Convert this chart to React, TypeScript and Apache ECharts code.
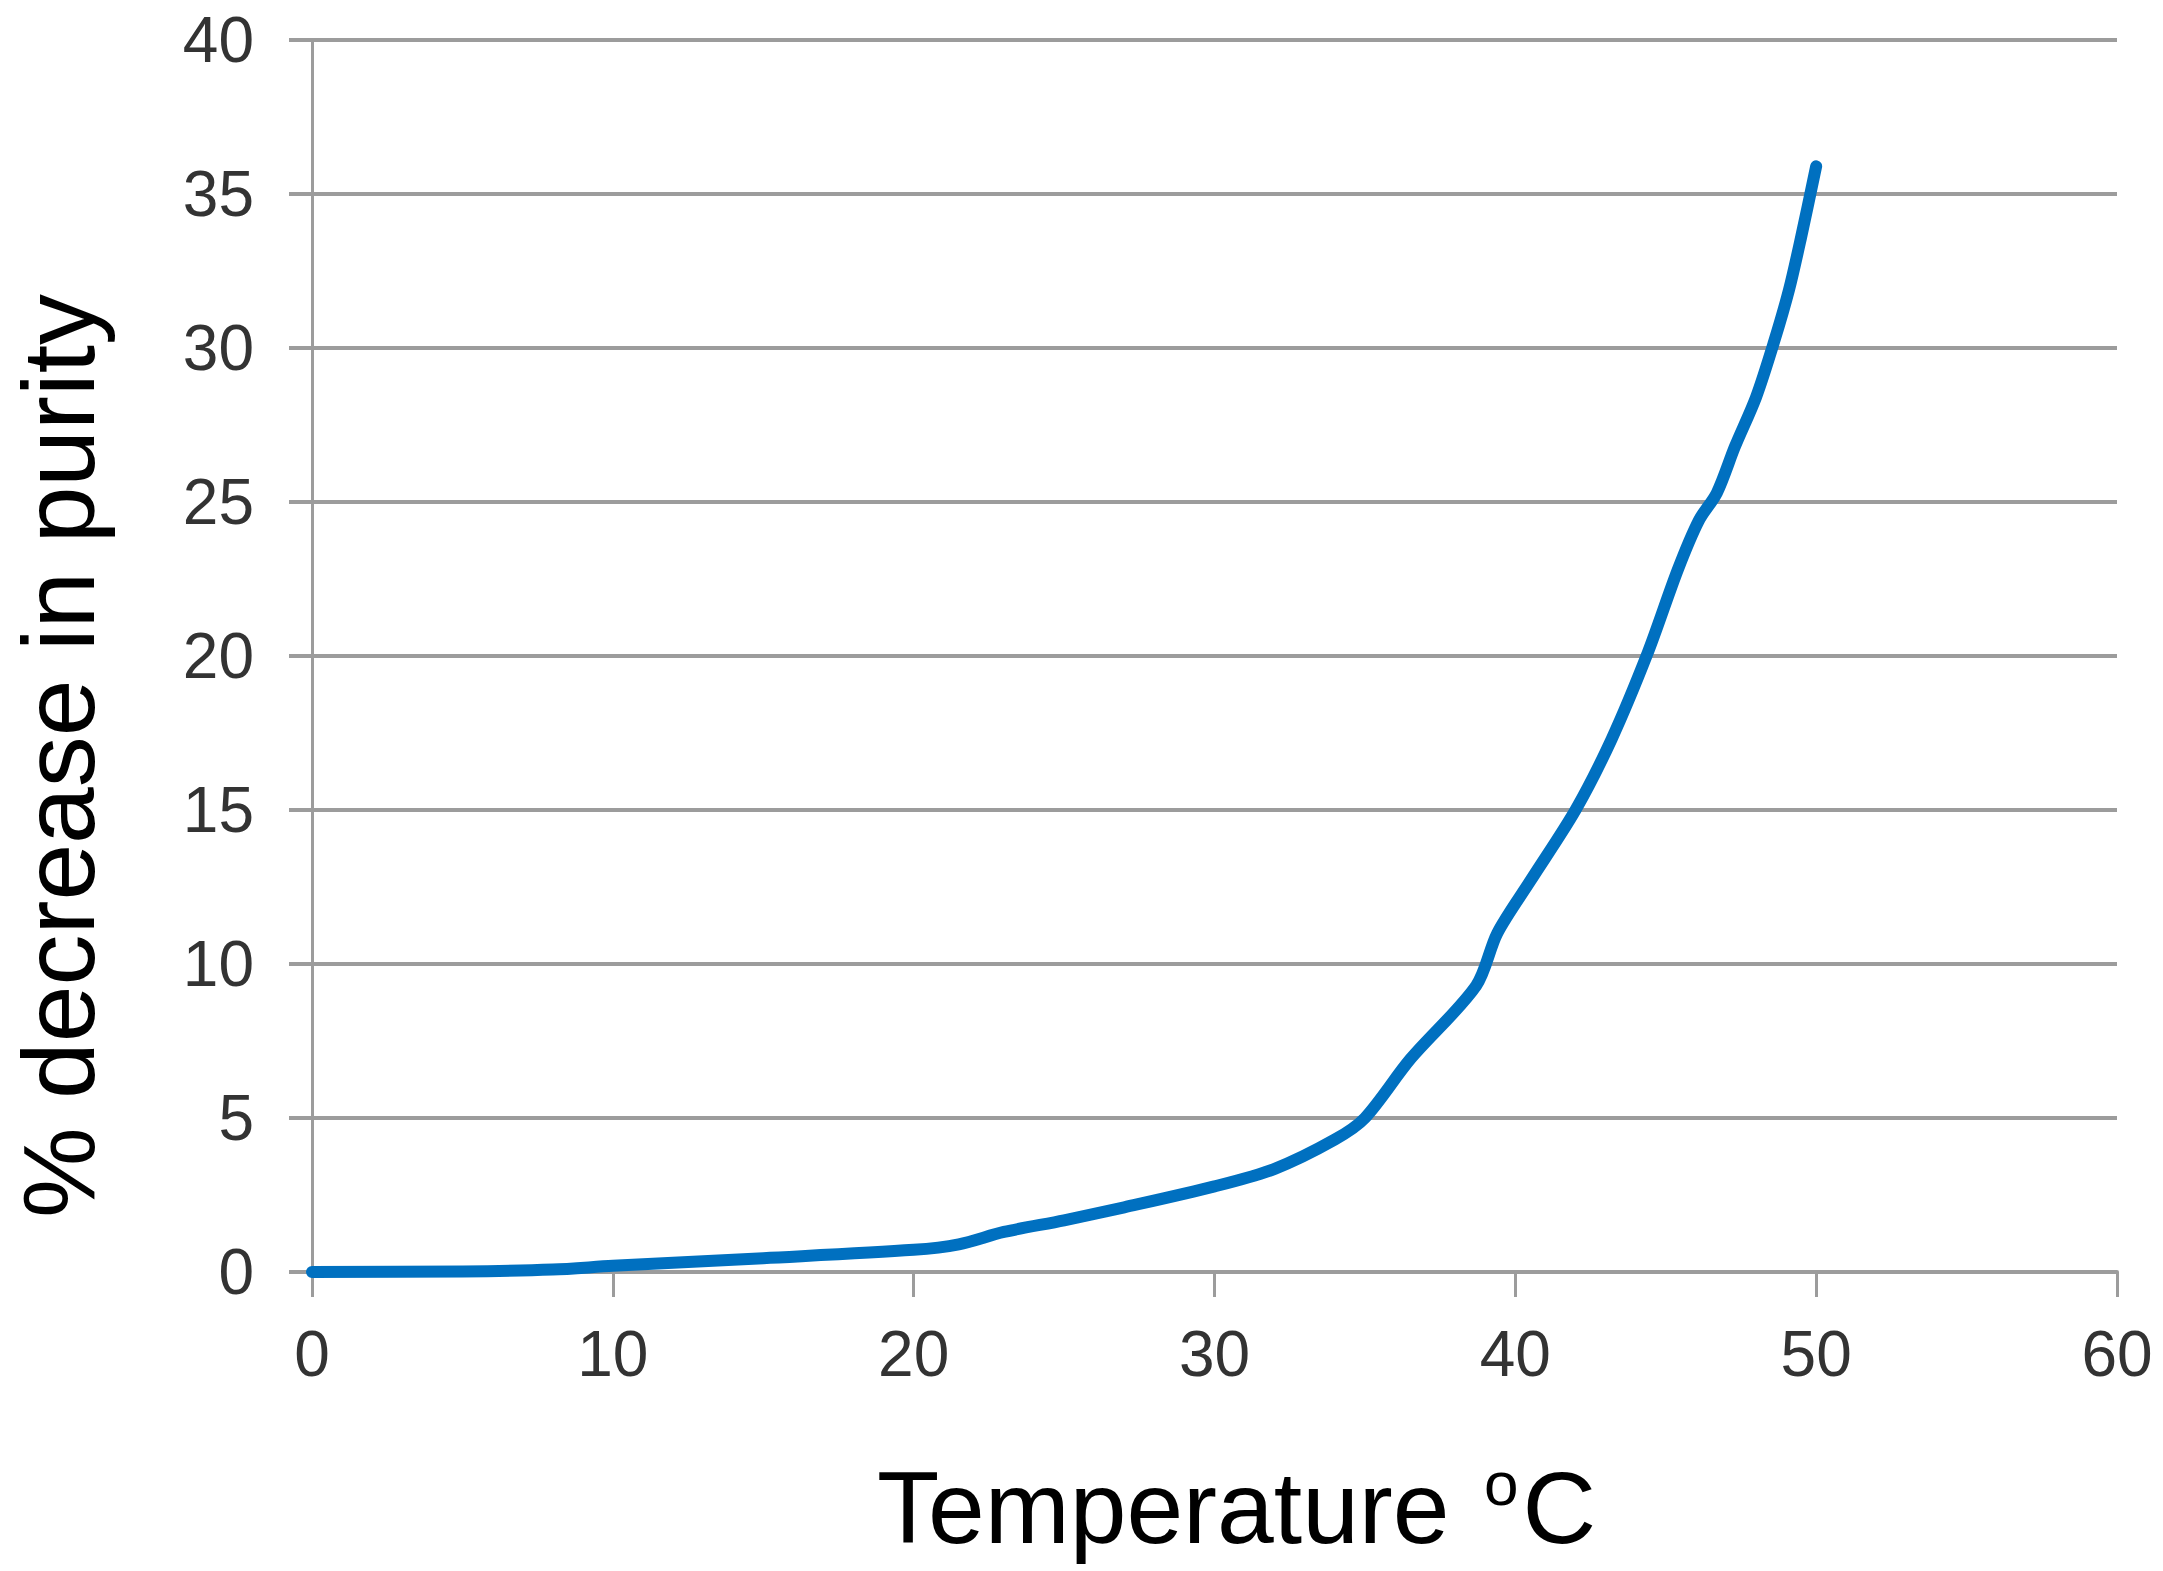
import React, { useEffect, useRef } from "react";
import * as echarts from "echarts";

const temperatures = [0, 5, 8, 10, 15, 20, 21.5, 23, 25, 27, 30, 32, 34, 35, 36.5, 38.7, 39.4, 40.5, 42, 43.2, 44.4, 45.4, 46.1, 46.7, 47.3, 48, 48.6, 49.1, 49.5, 50];
const purityDecrease = [0, 0.02, 0.08, 0.2, 0.45, 0.72, 0.9, 1.3, 1.68, 2.1, 2.78, 3.35, 4.3, 5.0, 6.9, 9.3, 11.0, 12.7, 15.0, 17.3, 20.1, 22.8, 24.4, 25.3, 26.8, 28.4, 30.2, 31.9, 33.6, 35.9];
const xRange = [0, 60];
const xStep = 10;
const yRange = [0, 40];
const yStep = 5;
const xTitle = "Temperature ";
const xTitleSup = "o";
const xTitleEnd = "C";
const yTitle = "% decrease in purity";

export default function App() {
  const ref = useRef<HTMLDivElement>(null);
  useEffect(() => {
    if (!ref.current) return;
    const chart = echarts.init(ref.current, null, { renderer: "svg" });
    const font = "'Liberation Sans', Arial, sans-serif";
    const gridColor = "#9c9c9c";
    chart.setOption({
      animation: false,
      backgroundColor: "#ffffff",
      grid: { left: 307, right: 46, top: 40, bottom: 299, containLabel: false },
      xAxis: {
        type: "value",
        min: xRange[0],
        max: xRange[1],
        interval: xStep,
        name: `{m|${xTitle}}{s|${xTitleSup}}{m|${xTitleEnd}}`,
        nameLocation: "middle",
        nameGap: 180,
        nameTextStyle: {
          fontFamily: font,
          fontSize: 102,
          color: "#000000",
          padding: [0, 0, 0, 44],
          rich: {
            m: { fontFamily: font, fontSize: 102, color: "#000000", lineHeight: 112 },
            s: { fontFamily: font, fontSize: 62, color: "#000000", lineHeight: 112, verticalAlign: "top", padding: [0, 4, 0, 6] },
          },
        },
        axisLine: { show: true, onZero: false, lineStyle: { color: gridColor, width: 4 } },
        axisTick: { show: true, length: 25, lineStyle: { color: gridColor, width: 3 } },
        axisLabel: { fontFamily: font, fontSize: 64, color: "#333333", margin: 50 },
        splitLine: { show: false },
      },
      yAxis: {
        type: "value",
        min: yRange[0],
        max: yRange[1],
        interval: yStep,
        name: yTitle,
        nameLocation: "middle",
        nameGap: 202,
        nameTextStyle: { fontFamily: font, fontSize: 102, color: "#000000", padding: [0, 200, 0, 0] },
        axisLine: { show: true, lineStyle: { color: gridColor, width: 3 } },
        axisTick: { show: true, length: 23, lineStyle: { color: gridColor, width: 4 } },
        axisLabel: { fontFamily: font, fontSize: 64, color: "#333333", margin: 58 },
        splitLine: { show: true, lineStyle: { color: gridColor, width: 4 } },
      },
      series: [
        {
          type: "line",
          data: temperatures.map((t, i) => [t, purityDecrease[i]]),
          smooth: 0.3,
          showSymbol: false,
          symbol: "none",
          lineStyle: { color: "#0070c0", width: 12, cap: "round", join: "round" },
        },
      ],
    });
    return () => chart.dispose();
  }, []);
  return (
    <div
      ref={ref}
      style={{ position: "absolute", left: 0, top: 0, width: 2163, height: 1571 }}
    />
  );
}
